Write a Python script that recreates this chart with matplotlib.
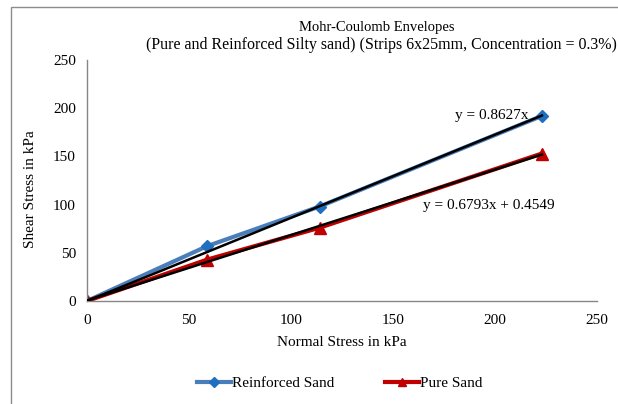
import matplotlib.pyplot as plt
from matplotlib.patches import Rectangle
import numpy as np

# data
normal_stress = [0, 59, 114, 223]
reinforced_shear = [0, 57, 98, 192]
pure_sand_shear = [0, 43, 76, 153]

# trendline equations shown on the chart
reinforced_fit = (0.8627, 0.0)
pure_fit = (0.6793, 0.4549)

ticks = [0, 50, 100, 150, 200, 250]

plt.rcParams['font.family'] = ['Liberation Serif', 'DejaVu Serif']


def fx(px):
    return px / 618


def fy(py):
    return 1 - py / 404


def main():
    fig = plt.figure(figsize=(6.18, 4.04), dpi=100)
    ax = fig.add_axes([fx(87), fy(301), 510 / 618, 241 / 404])

    # chart area border (cut off at right/bottom as in the original)
    fig.patches.append(Rectangle((fx(11), -0.2), 1.2, fy(7) + 0.2,
                                 transform=fig.transFigure, fill=False,
                                 edgecolor='#8c8c8c', linewidth=1.0))

    ax.plot(normal_stress, reinforced_shear, color='#4a7ebb', linewidth=3,
            marker='D', markersize=6, markerfacecolor='#1f6fc0',
            markeredgecolor='#1f6fc0', label='Reinforced Sand', zorder=2)
    ax.plot(normal_stress, pure_sand_shear, color='#c00000', linewidth=3,
            marker='^', markersize=8, markerfacecolor='#c00000',
            markeredgecolor='#c00000', label='Pure Sand', zorder=2)

    # linear trendlines
    tx = np.array([0, max(normal_stress)])
    ax.plot(tx, reinforced_fit[0] * tx + reinforced_fit[1], color='black',
            linewidth=1.8, zorder=3)
    ax.plot(tx, pure_fit[0] * tx + pure_fit[1], color='black',
            linewidth=1.8, zorder=3)

    fig.text(fx(455), fy(116), 'y = 0.8627x', fontsize=11, va='center', ha='left')
    fig.text(fx(423), fy(205), 'y = 0.6793x + 0.4549', fontsize=11,
             va='center', ha='left')

    ax.set_xlim(0, 250)
    ax.set_ylim(0, 250)
    ax.set_xticks(ticks)
    ax.set_yticks(ticks)
    ax.tick_params(length=0, labelsize=11)
    ax.tick_params(axis='x', pad=9)
    ax.tick_params(axis='y', pad=8)
    for side in ['top', 'right']:
        ax.spines[side].set_visible(False)
    for side in ['left', 'bottom']:
        ax.spines[side].set_color('#868686')
        ax.spines[side].set_linewidth(1.0)

    ax.set_xlabel('Normal Stress in kPa', fontsize=11, labelpad=7)
    fig.text(fx(31), fy(189), 'Shear Stress in kPa', fontsize=11,
             rotation=90, ha='center', va='center')

    fig.text(fx(377), fy(27), 'Mohr-Coulomb Envelopes', fontsize=10.5,
             ha='center', va='center')
    fig.text(fx(381), fy(45),
             '(Pure and Reinforced Silty sand) (Strips 6x25mm, Concentration = 0.3%)',
             fontsize=11.5, ha='center', va='center')

    fig.legend(loc='center', bbox_to_anchor=(fx(340), fy(383)), ncol=2,
               frameon=False, fontsize=11, handlelength=2.2, handletextpad=0.1,
               columnspacing=3.3, markerscale=0.8)

    fig.savefig('out.png', dpi=100)


if __name__ == '__main__':
    main()
